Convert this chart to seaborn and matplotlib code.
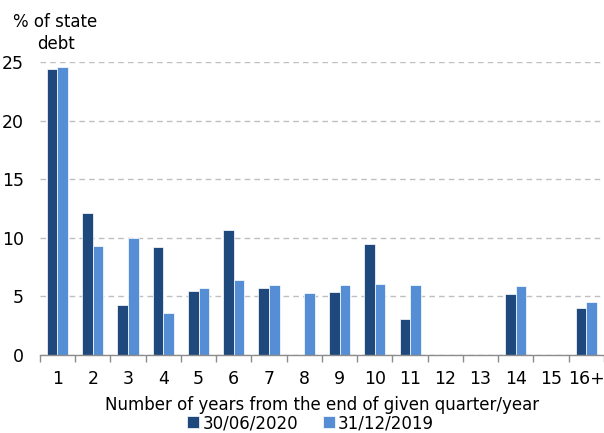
import numpy as np
import pandas as pd
import matplotlib
matplotlib.use('Agg')
import matplotlib.pyplot as plt
import seaborn as sns

# 데이터
years = ['1', '2', '3', '4', '5', '6', '7', '8', '9', '10', '11', '12', '13', '14', '15', '16+']
jun_2020 = [24.4, 12.1, 4.3, 9.2, 5.5, 10.7, 5.7, np.nan, 5.4, 9.5, 3.1, np.nan, np.nan, 5.2, np.nan, 4.0]
dec_2019 = [24.6, 9.3, 10.0, 3.6, 5.7, 6.4, 6.0, 5.3, 6.0, 6.1, 6.0, np.nan, np.nan, 5.9, np.nan, 4.5]
series = ['30/06/2020', '31/12/2019']
colors = ['#1f497d', '#558ed5']

df = pd.DataFrame({
    'year': years * 2,
    'value': jun_2020 + dec_2019,
    'series': [series[0]] * len(years) + [series[1]] * len(years),
})

sns.set_style('white')
plt.rcParams['font.family'] = ['DejaVu Sans']
plt.rcParams['text.color'] = 'black'
plt.rcParams['axes.labelcolor'] = 'black'
plt.rcParams['xtick.color'] = 'black'
plt.rcParams['ytick.color'] = 'black'

fig = plt.figure(figsize=(6.04, 4.33), dpi=100)
ax = fig.add_axes([0.066, 0.180, 0.934, 0.677])

sns.barplot(data=df, x='year', y='value', hue='series', order=years,
            hue_order=series, palette=colors, saturation=1, width=0.6, gap=0,
            edgecolor='white', linewidth=0.5, ax=ax)

ax.set_ylim(0, 25)
ax.set_xlim(-0.5, len(years) - 0.5)
ax.set_yticks(range(0, 26, 5))
ax.yaxis.grid(True, linestyle=(0, (4, 3)), color='#bfbfbf', linewidth=1)
ax.set_axisbelow(True)

for s in ['top', 'right', 'left']:
    ax.spines[s].set_visible(False)
ax.spines['bottom'].set_color('#8c8c8c')
ax.spines['bottom'].set_linewidth(1)

# 카테고리 경계에 눈금
ax.set_xticks(np.arange(-0.5, len(years), 1), minor=True)
ax.tick_params(axis='x', which='minor', bottom=True, length=5, color='#8c8c8c', width=1)
ax.tick_params(axis='x', which='major', bottom=False, labelsize=12.5, pad=7)
ax.tick_params(axis='y', left=False, labelsize=12.5, pad=8)

ax.set_xlabel('Number of years from the end of given quarter/year', fontsize=12, labelpad=6)
ax.set_ylabel('')
fig.text(0.092, 0.924, '% of state\ndebt', ha='center', va='center', fontsize=12, linespacing=1.3)

ax.legend(loc='center', bbox_to_anchor=(0.48, -0.232), ncol=2, frameon=False,
          fontsize=12, handlelength=0.7, handleheight=0.7, handletextpad=0.2,
          columnspacing=1.5, borderpad=0)

fig.savefig('out.png', dpi=100)
